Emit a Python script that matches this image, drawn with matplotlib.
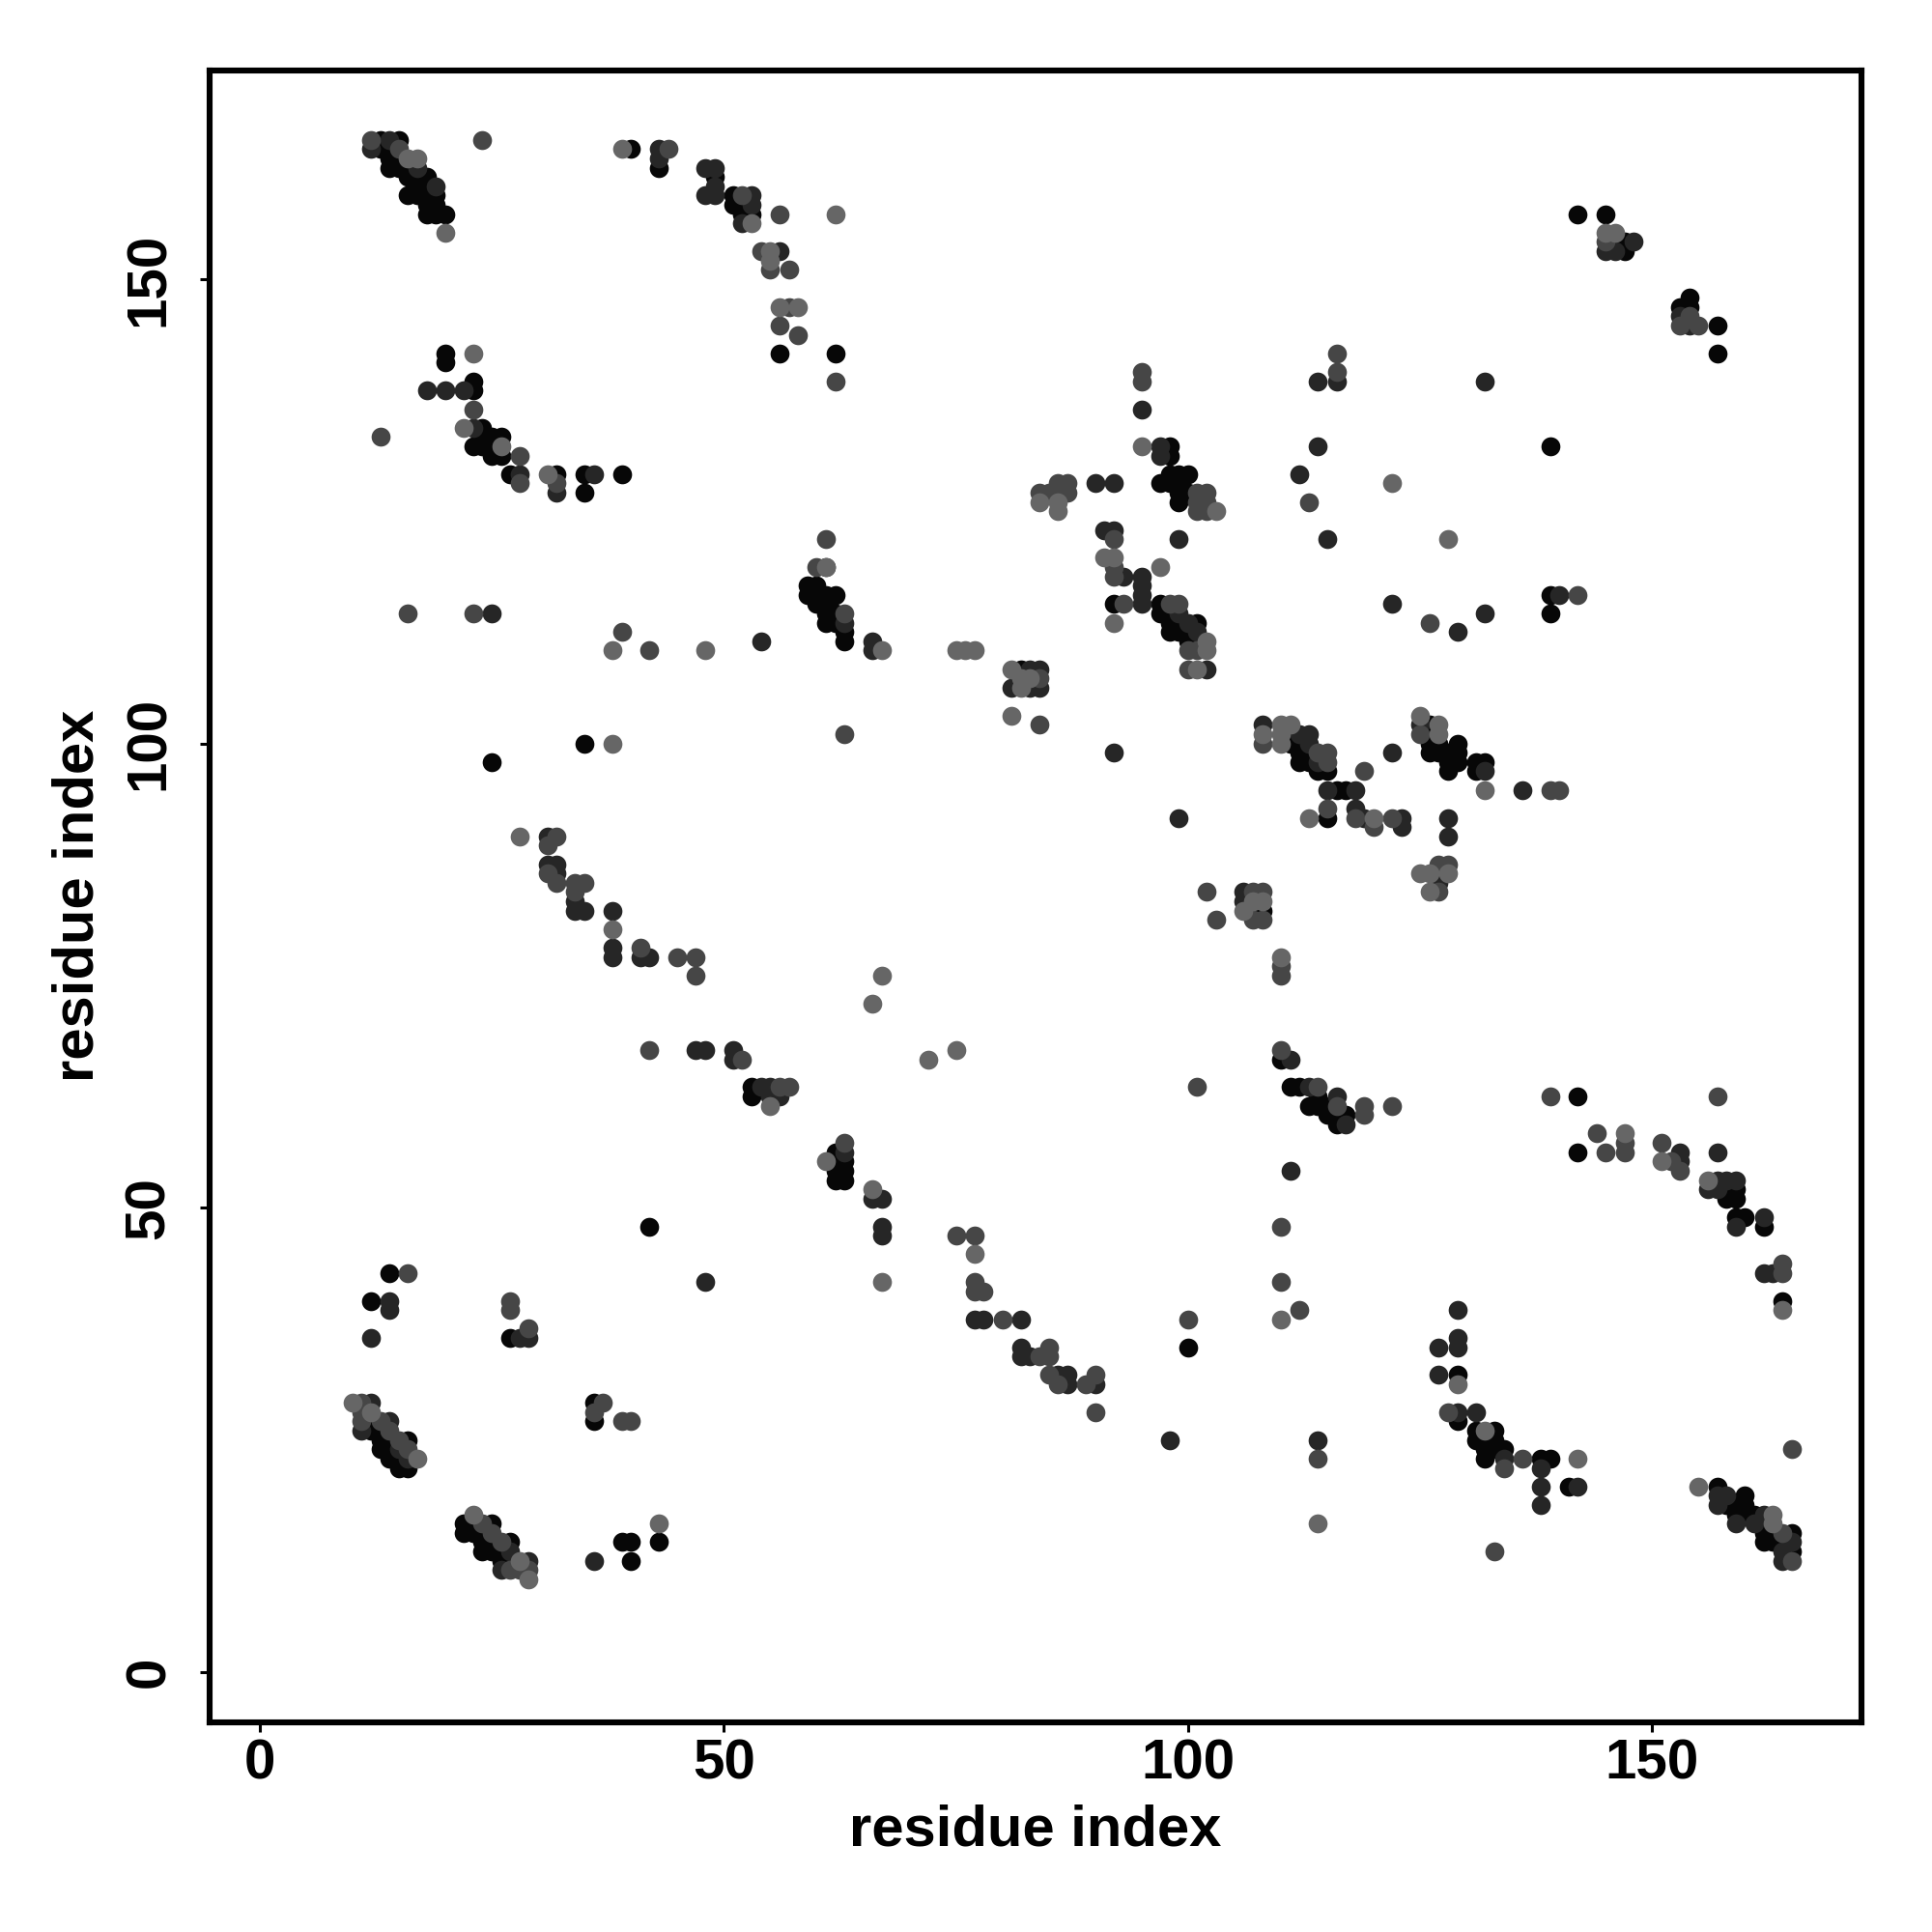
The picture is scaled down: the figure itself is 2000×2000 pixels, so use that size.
import matplotlib
matplotlib.use('Agg')
import matplotlib.pyplot as plt
import numpy as np

# contacts as (i, j), grouped by how strong they look
strongest = [
    (13,165),(15,165),(13,164),(14,163),(15,163),(14,162),(15,162),(16,162),(43,162),
    (16,161),(17,161),(18,161),(17,160),(18,160),(16,159),(17,159),(18,159),(19,159),
    (18,158),(19,158),(18,157),(19,157),(20,157),(40,164),(49,161),(51,159),(51,158),
    (52,158),(52,157),(53,157),(56,142),(62,142),(23,139),(23,138),(24,134),(24,133),
    (25,133),(26,133),(23,132),(24,132),(25,132),(25,131),(26,131),(27,129),(35,129),
    (20,142),(20,141),(32,129),(39,129),(35,127),
    (25,98),(35,100),(59,117),(60,117),(59,116),(60,116),(61,116),(62,116),(60,115),
    (61,115),(61,114),(62,114),(61,113),(62,113),(63,112),(63,111),
    (97,128),(98,129),(99,129),(100,129),(98,128),(99,128),(99,127),(99,126),(100,127),
    (98,132),(98,131),(97,115),(97,114),(98,114),(98,113),(98,112),(99,113),(99,112),
    (100,112),(100,111),(101,111),(101,113),(82,108),(92,115),
    (111,100),(112,100),(112,99),(113,99),(112,98),(113,98),(114,97),(115,97),(115,92),
    (116,95),(117,95),(126,102),(126,101),(126,100),(127,100),(126,99),(127,99),(128,99),
    (129,100),(129,99),(128,98),(129,98),(128,97),(131,97),(131,98),(132,98),(108,82),
    (142,157),(145,157),(147,154),(147,153),(154,148),(153,147),(154,147),(157,145),(157,142),
    (139,132),(139,116),(139,114),(53,63),(53,62),(62,56),(62,55),(63,55),(62,54),(63,54),
    (62,53),(63,53),(42,48),(100,35),(110,66),(111,63),(112,63),(113,61),(114,62),(114,61),
    (115,61),(115,60),(116,60),(117,60),(116,59),(142,62),(142,56),(158,52),(159,52),
    (158,51),(159,51),(159,49),(160,49),(162,48),(164,40),
    (14,43),(12,40),(27,36),(36,29),(36,27),(12,27),(12,26),(13,26),(13,25),(14,25),(16,25),
    (13,24),(14,24),(14,23),(15,23),(15,22),(16,22),
    (22,16),(25,16),(22,15),(23,15),(24,15),(24,14),(27,14),(24,13),(25,13),(26,13),
    (26,12),(27,12),(39,14),(40,14),(43,14),(40,12),
    (129,32),(129,27),(131,26),(133,26),(131,25),(132,25),(133,25),(132,24),(133,24),(134,24),
    (132,23),(138,23),(139,23),(141,20),(157,20),(160,19),(158,18),(159,18),(160,18),(159,17),
    (160,17),(161,17),(162,16),(162,15),(163,15),(165,15),(162,14),(163,14),(164,14),(165,13),
]
strong = [
    (14,165),(12,164),(17,162),(48,162),(49,162),(19,160),(48,159),(49,159),(53,159),(53,158),
    (49,160),(43,164),(43,163),(56,153),(52,156),(18,138),(20,138),(22,138),(23,134),
    (28,129),(36,129),(32,127),(61,119),(63,113),(66,111),(66,110),(25,114),
    (54,111),(90,128),(92,128),(91,123),(92,123),(99,122),(115,122),(112,129),(95,136),
    (93,118),(95,118),(95,117),(95,116),(95,115),(100,113),(101,112),(102,108),(86,127),
    (97,132),(97,131),(99,114),(92,99),(83,106),(84,106),(81,106),(83,108),(84,108),
    (108,102),(112,101),(113,101),(113,100),(114,98),(122,99),(115,95),(118,95),(118,93),
    (119,92),(123,92),(123,91),(125,102),(127,85),(132,97),(136,95),(128,92),(128,90),(106,84),
    (106,83),(111,66),(114,139),(116,139),(114,132),(122,115),(132,114),(132,139),
    (129,112),(140,116),(99,92),(145,153),(146,153),(148,154),(154,145),(153,146),(31,90),
    (31,87),(32,87),(32,86),(34,83),(34,82),(35,82),(38,82),(38,78),(38,77),(41,77),(42,77),
    (47,67),(48,67),(51,67),(51,66),(54,63),(55,63),(55,62),(56,62),(63,56),(66,51),(67,51),
    (67,48),(67,47),(48,42),(77,38),(78,38),(82,38),(82,35),(82,34),(83,34),(86,32),(87,32),
    (87,31),(90,31),(98,25),(113,63),(116,62),(117,59),(111,54),(157,56),(153,56),(153,55),
    (157,53),(158,53),(159,53),(156,52),(157,52),(159,48),(162,49),(162,43),(163,43),
    (14,40),(14,39),(12,36),(28,36),(29,36),(12,29),(11,26),(14,27),(15,24),(16,23),
    (26,11),(27,13),(29,12),(36,12),(127,32),(127,35),(129,35),(129,36),(129,39),
    (129,28),(138,22),(138,20),(138,18),(142,20),(134,23),(157,19),(158,19),(157,18),(159,16),
    (161,16),(162,17),(165,14),(164,13),(164,12),(114,25),(131,28),
]
medium = [
    (12,165),(24,165),(15,164),(44,164),(52,159),(56,157),(54,153),(55,151),(57,151),(57,147),
    (56,145),(58,144),(62,139),(23,136),(13,133),(28,131),(32,128),(28,128),(16,114),(23,114),
    (39,112),(42,110),(60,119),(61,122),(63,114),(63,101),(84,127),(85,127),(87,128),(87,127),
    (86,128),(101,127),(102,127),(101,126),(102,126),(101,125),(102,125),(92,122),(92,119),
    (92,118),(93,115),(98,115),(99,115),(101,110),(100,110),(100,108),(84,107),(84,102),
    (108,100),(114,99),(115,99),(115,98),(119,97),(115,93),(118,92),(120,91),(122,92),
    (125,101),(127,87),(128,87),(127,84),(139,95),(140,95),(107,84),(108,84),(107,81),(108,81),
    (110,76),(110,75),(110,67),(101,63),(102,84),(103,81),(95,140),(95,139),(116,142),(116,140),
    (113,126),(126,113),(142,116),(145,154),(154,146),(155,145),(153,145),(32,90),(31,89),(31,86),
    (32,85),(34,85),(35,85),(34,84),(41,78),(45,77),(47,77),(47,75),(42,67),(52,66),(56,63),(57,63),
    (63,57),(75,47),(77,47),(77,42),(77,41),(78,41),(80,38),(84,34),(85,35),(85,34),(85,32),
    (86,31),(89,31),(90,32),(90,28),(100,38),(114,63),(116,61),(119,60),(119,61),(122,61),
    (110,48),(110,42),(112,39),(139,62),(144,58),(145,56),(147,57),(147,56),(151,57),(152,55),
    (153,54),(157,62),(164,44),(164,43),(16,43),(27,40),(27,39),(29,37),(11,29),(11,28),(11,27),
    (13,27),(14,26),(15,25),(16,24),(37,29),(36,28),(39,27),(40,27),(24,16),(25,15),(26,14),
    (27,11),(28,11),(29,11),(128,28),(136,23),(134,22),(164,15),(165,12),(165,24),(114,23),
    (133,13),
]
weak = [
    (16,163),(17,163),(20,155),(39,164),(53,156),(55,153),(55,152),(56,147),(58,147),(62,157),
    (23,142),(22,134),(26,132),(31,129),(38,100),(38,110),(48,110),(61,119),(67,110),
    (75,110),(76,110),(77,110),(81,108),(82,107),(81,103),(83,107),(82,106),(86,126),
    (84,126),(86,125),(103,125),(91,120),(92,120),(97,119),(92,113),(102,111),(102,110),(101,108),
    (95,132),(122,128),(128,122),(108,101),(110,102),(111,102),(110,101),(110,100),(113,92),
    (120,92),(125,103),(127,102),(127,101),(132,95),(125,86),(126,86),(128,86),(126,84),
    (107,83),(108,83),(106,82),(110,77),(145,155),(146,155),(28,90),(38,80),(66,72),(67,75),
    (72,66),(75,67),(55,61),(61,55),(66,52),(67,42),(77,45),(110,38),(147,58),(151,55),
    (156,53),(164,39),(10,29),(12,28),(17,23),(23,17),(28,12),(29,10),(43,16),(129,31),(132,26),
    (142,23),(155,20),(163,17),(163,16),(114,16),
]

ticks = [0, 50, 100, 150]
lims = (-5.4, 172.5)

plt.rcParams['font.family'] = ['Liberation Sans', 'DejaVu Sans']
plt.rcParams['font.weight'] = 'bold'

fig = plt.figure(figsize=(10, 10), dpi=200)
ax = fig.add_axes([0.1084, 0.1085, 0.8549, 0.8552])

# lighter dots sit on top of darker ones where they overlap
for pts, col in [(strongest, '#070707'), (strong, '#262626'), (medium, '#464646'), (weak, '#666666')]:
    xy = np.array(pts)
    ax.scatter(xy[:, 0], xy[:, 1], s=50, c=col, linewidths=0)

ax.set_xlim(lims)
ax.set_ylim(lims)
ax.set_xticks(ticks)
ax.set_yticks(ticks)
ax.set_yticklabels(ticks, rotation=90, va='center')
ax.tick_params(axis='both', length=3.5, width=1.1, labelsize=21)
ax.tick_params(axis='x', pad=2.5)
ax.tick_params(axis='y', pad=9)
for s in ax.spines.values():
    s.set_linewidth(2.2)

ax.set_xlabel('residue index', fontsize=21.5, fontweight='bold', labelpad=5)
ax.set_ylabel('residue index', fontsize=21.5, fontweight='bold', labelpad=7)

fig.savefig('out.png', dpi=200)
